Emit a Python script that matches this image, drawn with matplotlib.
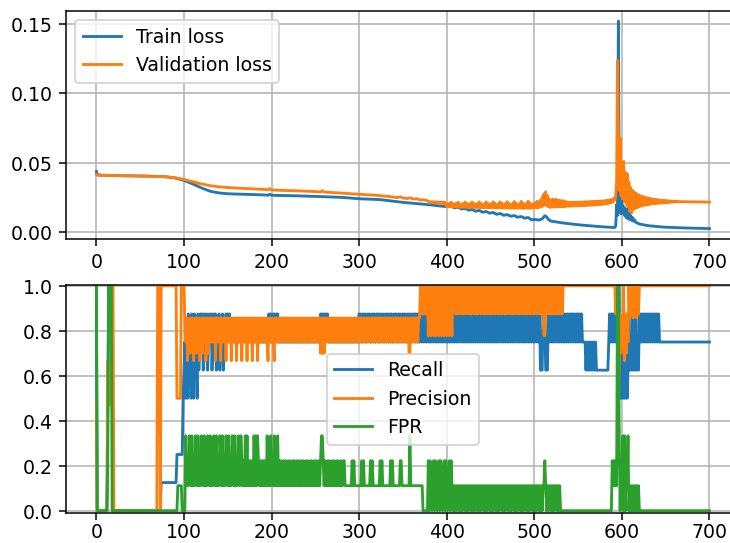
import numpy as np
import matplotlib
matplotlib.use("Agg")
import matplotlib.pyplot as plt

N_EPOCHS = 701

# ---------------- loss data (values in units of 1e-4) ----------------
train_epochs = [0, 1, 5, 20, 50, 70, 80, 90, 100, 110,
                120, 130, 140, 150, 170, 190, 196, 198, 200, 230,
                250, 280, 300, 324, 350, 375, 400, 405, 409, 413,
                417, 421, 425, 429, 433, 437, 441, 445, 449, 453,
                457, 461, 465, 469, 473, 477, 481, 485, 489, 493,
                497, 501, 505, 509, 512, 514, 516, 518, 520, 530,
                540, 550, 560, 570, 580, 590, 592, 593, 594, 595,
                596, 597, 598, 599, 600, 601, 602, 603, 604, 605,
                606, 607, 608, 609, 610, 611, 612, 613, 614, 616,
                620, 630, 640, 650, 670, 700]
train_loss_e4 = [437, 414, 410, 407, 404, 401, 398, 390, 372, 347,
                 318, 294, 282, 276, 272, 268, 266, 272, 265, 261,
                 257, 250, 240, 234, 214, 200, 183, 186, 174, 179,
                 166, 171, 158, 163, 150, 156, 143, 148, 136, 141,
                 128, 134, 121, 126, 114, 119, 107, 112, 100, 105,
                 88, 92, 86, 95, 118, 110, 92, 82, 78, 68,
                 60, 53, 47, 42, 37, 33, 34, 45, 200, 120,
                 1520, 350, 180, 130, 225, 140, 185, 120, 170, 105,
                 150, 95, 185, 90, 120, 85, 105, 78, 90, 70,
                 58, 46, 40, 35, 30, 25]

val_early_epochs = [0, 1, 5, 20, 40, 60, 70, 80, 90, 100,
                    110, 120, 130, 140, 150, 160, 170, 180, 190, 196,
                    198, 200, 210, 230, 250, 256, 258, 260, 280, 300,
                    320, 340, 343, 347, 350, 355, 358, 362, 366, 370,
                    374, 378]
val_early_e4 = [415, 410, 409, 407, 405, 403, 401, 398, 391, 379,
                363, 347, 334, 326, 321, 317, 314, 311, 308, 305,
                313, 304, 301, 297, 292, 289, 298, 288, 281, 272,
                265, 252, 248, 254, 245, 242, 247, 238, 240, 231,
                233, 226]
# every epoch from 380 to 668
val_dense_e4 = [
    219, 211, 218, 210, 219, 210, 217, 209, 218, 209, 217, 208, 216, 208, 217, 207, 216, 207, 215, 206,
    182, 200, 181, 208, 182, 214, 181, 205, 180, 198, 180, 208, 181, 215, 180, 204, 179, 197, 179, 206,
    180, 216, 179, 206, 178, 197, 178, 205, 179, 216, 178, 206, 177, 196, 177, 205, 178, 217, 177, 207,
    176, 196, 176, 204, 177, 217, 176, 207, 175, 195, 175, 204, 176, 218, 175, 208, 174, 195, 174, 204,
    175, 218, 174, 208, 173, 195, 173, 204, 174, 219, 173, 208, 172, 194, 172, 204, 173, 220, 172, 208,
    172, 194, 172, 204, 173, 221, 172, 208, 172, 194, 172, 205, 173, 222, 172, 208, 172, 195, 173, 206,
    174, 207, 175, 222, 176, 212, 178, 230, 182, 250, 188, 275, 195, 290, 190, 262, 182, 240, 178, 228,
    180, 238, 181, 232, 180, 236, 182, 228, 181, 230, 182, 224, 183, 226, 184, 220, 185, 218,
    186, 214, 186, 215, 187, 214, 187, 215, 188, 215, 188, 216, 189, 216, 189, 217, 190, 217, 191, 218,
    191, 218, 192, 219, 193, 219, 193, 220, 194, 220, 195, 221, 196, 222, 197, 222, 198, 223, 199, 224,
    200, 225, 202, 226, 204, 228, 206, 230, 209, 233, 212, 236,
    218, 245, 232, 270, 360, 1236, 620, 300, 680, 260,
    480, 240, 510, 220, 430, 200, 420, 180, 360, 150,
    320, 138, 300, 160, 290, 170, 280, 175, 270, 180,
    265, 185, 260, 190, 255, 192, 252, 195, 248, 197,
    245, 199, 242, 201, 240, 203, 238, 205, 236, 206,
    234, 207, 232, 208, 230, 209, 229, 210, 228, 211,
    227, 212, 226, 213, 225, 214, 224, 215, 223, 216,
    222, 217, 221, 217, 220, 218, 220, 218, 219]
val_late_epochs = [680, 700]
val_late_e4 = [218, 216]

val_epochs = val_early_epochs + list(range(380, 669)) + val_late_epochs
val_loss_e4 = val_early_e4 + val_dense_e4 + val_late_e4

# ---------------- metric data: (first epoch, end epoch, repeating values) ----------------
recall_segments = [
    (0, 1, (1.0,)), (1, 13, (0.0,)), (13, 14, (0.5,)), (14, 19, (1.0,)), (19, 74, (0.0,)),
    (74, 92, (0.125,)), (92, 98, (0.25,)),
    (98, 104, (0.25, 0.5, 0.625, 0.75, 0.5, 0.75)),
    (104, 110, (0.5, 0.875, 0.625, 0.75)),
    (110, 116, (0.75, 0.5, 0.875, 0.625)),
    (116, 135, (0.875, 0.625, 0.75, 0.875, 0.75)),
    (135, 147, (0.75, 0.875, 0.625, 0.75)),
    (147, 153, (0.75, 0.875)),
    (153, 197, (0.75,)),
    (197, 209, (0.875, 0.75)),
    (209, 256, (0.75,)),
    (256, 266, (0.875, 0.75)),
    (266, 300, (0.75,)),
    (300, 364, (0.875, 0.75, 0.875, 0.75, 0.75)),
    (364, 507, (0.875, 0.75)),
    (507, 510, (0.625,)),
    (510, 513, (0.875, 0.75)),
    (513, 516, (0.625,)),
    (516, 555, (0.875, 0.75)),
    (555, 559, (0.75,)),
    (559, 571, (0.625, 0.75)),
    (571, 585, (0.625,)),
    (585, 594, (0.75, 0.875)),
    (594, 598, (1.0,)),
    (598, 608, (0.5, 0.625, 0.5, 0.75)),
    (608, 620, (0.875, 0.625, 0.75, 0.625)),
    (620, 643, (0.875, 0.75)),
    (643, 701, (0.75,)),
]

precision_segments = [
    (0, 1, (0.471,)), (1, 13, (0.0,)), (13, 14, (0.667,)), (14, 18, (0.471,)), (18, 20, (1.0,)),
    (20, 70, (0.0,)), (70, 73, (1.0,)), (73, 74, (0.0,)), (74, 92, (1.0,)), (92, 97, (0.5,)),
    (97, 101, (1.0,)),
    (101, 131, (0.857, 0.75, 0.857, 0.667, 0.75, 0.857, 0.7)),
    (131, 190, (0.857, 0.75, 0.857, 0.75, 0.857, 0.667)),
    (190, 210, (0.857, 0.75, 0.857, 0.75, 0.857, 0.75, 0.667)),
    (210, 256, (0.857, 0.75, 0.857, 0.857, 0.75)),
    (256, 262, (0.7, 0.857)),
    (262, 300, (0.857, 0.75, 0.857, 0.857, 0.75)),
    (300, 370, (0.857, 0.75, 0.857, 0.857, 0.75, 0.857)),
    (357, 359, (0.7,)),
    (370, 378, (1.0, 0.875)),
    (378, 408, (1.0, 0.778, 1.0, 0.875, 0.778, 1.0)),
    (408, 507, (1.0, 1.0, 0.875, 1.0, 0.875, 1.0, 1.0, 0.875)),
    (507, 534, (1.0, 0.875)),
    (511, 513, (0.778,)),
    (534, 592, (1.0,)),
    (592, 596, (1.0, 0.875)),
    (596, 597, (0.471,)),
    (597, 608, (0.667, 0.875, 0.7, 0.857, 0.75, 1.0)),
    (608, 620, (1.0, 0.857, 1.0, 0.875)),
    (620, 701, (1.0,)),
]

fpr_segments = [
    (0, 1, (1.0,)), (1, 13, (0.0,)), (13, 14, (0.222,)), (14, 18, (1.0,)), (18, 93, (0.0,)),
    (93, 98, (0.111,)), (98, 102, (0.0,)),
    (102, 166, (0.333, 0.111, 0.222, 0.111, 0.333, 0.222, 0.111)),
    (166, 170, (0.222, 0.111)),
    (170, 174, (0.333, 0.111)),
    (174, 180, (0.222, 0.111)),
    (180, 185, (0.333, 0.111)),
    (185, 195, (0.222, 0.111)),
    (195, 209, (0.333, 0.111, 0.222, 0.111)),
    (209, 280, (0.222, 0.111, 0.222, 0.111, 0.111)),
    (257, 259, (0.333,)),
    (280, 373, (0.111,)),
    (282, 284, (0.222,)),
    (292, 295, (0.222, 0.111, 0.222)),
    (303, 306, (0.222, 0.111, 0.222)),
    (313, 316, (0.222, 0.111, 0.222)),
    (324, 327, (0.222, 0.111, 0.222)),
    (336, 339, (0.222, 0.111, 0.222)),
    (347, 349, (0.222,)),
    (358, 359, (0.333,)),
    (373, 379, (0.0,)),
    (379, 408, (0.222, 0.0, 0.222, 0.111, 0.0, 0.111)),
    (408, 531, (0.111, 0.0, 0.111, 0.0, 0.111, 0.111, 0.0)),
    (512, 513, (0.222,)),
    (531, 589, (0.0,)),
    (589, 595, (0.222, 0.111)),
    (595, 597, (1.0,)),
    (597, 609, (0.333, 0.0, 0.222, 0.111, 0.333, 0.0)),
    (609, 620, (0.111, 0.0)),
    (620, 701, (0.0,)),
]

x_ticks = [0, 100, 200, 300, 400, 500, 600, 700]
loss_ticks = [0.00, 0.05, 0.10, 0.15]
metric_ticks = [0.0, 0.2, 0.4, 0.6, 0.8, 1.0]


def expand(segments):
    arr = np.full(N_EPOCHS, np.nan)
    for s, t, pat in segments:
        for e in range(s, t):
            arr[e] = pat[(e - s) % len(pat)]
    return arr


assert len(train_epochs) == len(train_loss_e4)
assert len(val_epochs) == len(val_loss_e4), (len(val_epochs), len(val_loss_e4))

epochs = np.arange(N_EPOCHS)
recall = expand(recall_segments)
precision = expand(precision_segments)
fpr = expand(fpr_segments)

DPI = 136
W, H = 730.0, 543.0
fig = plt.figure(figsize=((W + 0.4) / DPI, (H + 0.4) / DPI), dpi=DPI)
left = 65.7 / W
width = 674.0 / W
ax1 = fig.add_axes([left, 1 - 239.3 / H, width, 228.3 / H])
ax2 = fig.add_axes([left, 1 - 513.3 / H, width, 228.3 / H])

ax1.plot(train_epochs, np.array(train_loss_e4) * 1e-4, color="C0", lw=1.5, label="Train loss")
ax1.plot(val_epochs, np.array(val_loss_e4) * 1e-4, color="C1", lw=1.5, label="Validation loss")
ax1.set_xlim(-35, 735)
ax1.set_ylim(-0.00505, 0.1596)
ax1.set_xticks(x_ticks)
ax1.set_yticks(loss_ticks)
ax1.set_yticklabels([f"{v:.2f}" for v in loss_ticks])
ax1.grid(True)
ax1.legend(loc="upper left")

ax2.plot(epochs, recall, color="C0", lw=1.5, label="Recall")
ax2.plot(epochs, precision, color="C1", lw=1.5, label="Precision")
ax2.plot(epochs, fpr, color="C2", lw=1.5, label="FPR")
ax2.set_xlim(-35, 735)
ax2.set_ylim(-0.0116, 1.0045)
ax2.set_xticks(x_ticks)
ax2.set_yticks(metric_ticks)
ax2.set_yticklabels([f"{v:.1f}" for v in metric_ticks])
ax2.tick_params(axis="x", pad=1.5)
ax2.grid(True)
ax2.legend(loc="center")

fig.savefig("out.png", dpi=DPI)
